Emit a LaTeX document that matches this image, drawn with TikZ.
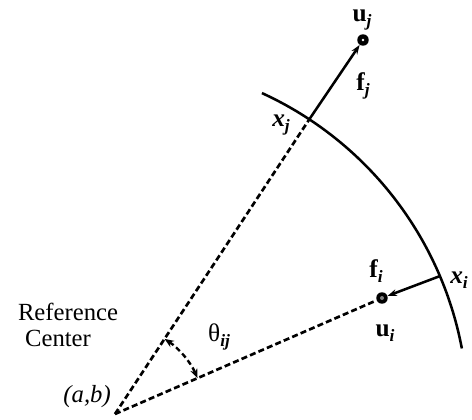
\documentclass[tikz,border=0pt]{standalone}
\usepackage{fontspec}
\setmainfont{Liberation Serif}
\usetikzlibrary{arrows.meta}
\newcommand\mysb[1]{\raisebox{-0.45ex}{\fontsize{13}{13}\selectfont\bfseries\itshape #1}}
\tikzset{
  lbl/.style={inner sep=0pt, font=\fontsize{19}{21}\selectfont},
  txt/.style={inner sep=0pt, font=\fontsize{18.5}{20}\selectfont},
  ray/.style={line width=2pt, dash pattern=on 4.5pt off 2.4pt},
  solidline/.style={line width=1.9pt},
  tip/.style={-{Stealth[length=7pt,width=5pt]}},
  dotnode/.style={circle, fill=black, minimum size=8.6pt, inner sep=0pt}
}
\begin{document}
\begin{tikzpicture}[x=0.75pt,y=-0.75pt]
\useasboundingbox (0,0) rectangle (472,419);
\coordinate (O) at (115,414);
\path (O) ++(-56.6:353) coordinate (xj);
\path (O) ++(-23.0:353) coordinate (xi);
\node[dotnode] (uj) at (363,40) {};
\node[dotnode] (ui) at (382,298) {};
\fill[white] (uj.center) circle (1.3);
\fill[gray] (ui.center) circle (2);
% circle arc
\draw[solidline] (O) ++(-65.4:353) coordinate (arcs) arc[start angle=-65.4, end angle=-10.7, radius=353];
% rays
\draw[ray] (O) -- (xj);
\draw[ray] (O) -- (ui);
% forces
\draw[solidline, tip] (xj) -- (uj);
\draw[solidline, tip] (xi) -- (ui);
% angle
\draw[line width=1.8pt, dash pattern=on 4pt off 2.5pt, {Stealth[length=7pt,width=5.5pt]}-{Stealth[length=7pt,width=5.5pt]}]
  (O) ++(-56.6:90) arc[start angle=-56.6, end angle=-23.5, radius=90];
% labels
\node[lbl] (luj) at (362,20) {\textbf{u}\mysb{j}};
\node[lbl] (lfj) at (363,86) {\textbf{f}\mysb{j}};
\node[lbl] (lxj) at (281,125) {\textbf{\textit{x}}\mysb{j}};
\node[lbl] (lfi) at (376,271) {\textbf{f}\mysb{i}};
\node[lbl] (lui) at (385,333) {\textbf{u}\mysb{i}};
\node[lbl, anchor=west] (lxi) at (450,280) {\textbf{\textit{x}}\mysb{i}};
\node[lbl] (lth) at (219,337) {θ\mysb{ij}};
\node[txt] (lref) at (68,312) {Reference};
\node[txt] (lcen) at (58,338) {Center};
\node[txt, anchor=east] (lab) at (111,397) {\textit{(a,b)}};
\end{tikzpicture}
\end{document}
